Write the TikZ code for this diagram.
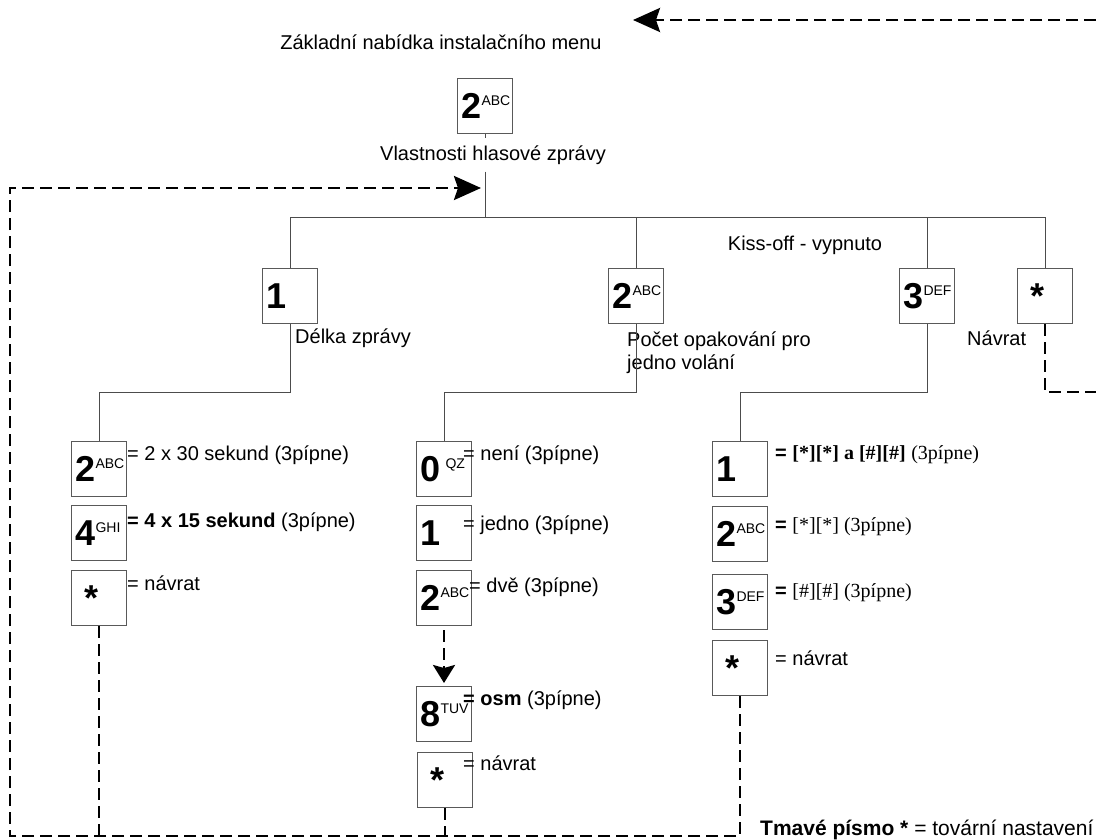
\documentclass[tikz,border=0pt]{standalone}
\usepackage{fontspec}
\setmainfont{Liberation Sans}
\newfontfamily\serifnote{Liberation Serif}
\usetikzlibrary{arrows.meta}

\newcommand{\keylab}[2]{#1\raisebox{13pt}{\fontsize{14}{14}\selectfont\mdseries #2}}
\newcommand{\keystar}{\hspace*{9pt}*}

\begin{document}
\begin{tikzpicture}[x=1pt,y=-1pt,
	font=\fontsize{20}{23}\selectfont,
	keybox/.style={draw=black!65,line width=1pt,anchor=north west,minimum width=55pt,minimum height=55pt,
		text width=47pt,inner xsep=4pt,inner ysep=0pt,align=left,font=\fontsize{36}{36}\selectfont\bfseries},
	wire/.style={draw=black!70,line width=0.9pt},
	ret/.style={draw=black,line width=2.8pt,dash pattern=on 12pt off 6pt},
	note/.style={anchor=west,inner sep=0pt},
	bigtip/.style={-{Stealth[length=27pt,width=24pt,inset=4pt]}}
	]
		\useasboundingbox (0,0) rectangle (1096,840);
		
		% hlavni menu
		\path (441,42) node (menu) {Základní nabídka instalačního menu};
		\coordinate (back) at (633,20);
		\coordinate (rimtop) at (1096,20);
		\draw[ret,bigtip] (rimtop) -- (back);
		
		\path (457,78) node[keybox] (top) {\keylab{2}{ABC}};
		\path (493,155) node[fill=white,inner sep=7pt] (vl) {Vlastnosti hlasové zprávy};
		\coordinate (bus) at (0,217);
		\coordinate (drop) at (0,392);
		\coordinate (floor) at (10,836);
		\coordinate (hub) at (481,188);
		\coordinate (rim) at (1096,392);
		
		\path (262,268) node[keybox] (k1) {1};
		\path (608,268) node[keybox] (k2) {\keylab{2}{ABC}};
		\path (899,268) node[keybox] (k3) {\keylab{3}{DEF}};
		\path (1017,268) node[keybox] (k4) {\keystar};
		
		\draw[wire] (top.south) -- (top.south |- vl.north);
		\draw[wire] (top.south |- vl.south) -- (top.south |- bus);
		\draw[wire] (k1.north) |- (k4.north |- bus) -- (k4.north);
		\draw[wire] (k2.north) -- (k2.north |- bus);
		\draw[wire] (k3.north) -- (k3.north |- bus);
		
		\path (295,338) node[note] (l1) {Délka zprávy};
		\path (627,332) node[note,anchor=north west,align=left] (l2) {Počet opakování pro\\jedno volání};
		\path (805,245) node (l3) {Kiss-off - vypnuto};
		\path (967,338) node[note] (l4) {Návrat};
		
		% delka zpravy
		\path (71,441) node[keybox] (a1) {\keylab{2}{ABC}};
		\path (71,505) node[keybox] (a2) {\keylab{4}{GHI}};
		\path (71,570) node[keybox] (a3) {\keystar};
		\path (127,455) node[note] (ta1) {= 2 x 30 sekund (3pípne)};
		\path (127,522) node[note] (ta2) {\textbf{= 4 x 15 sekund} (3pípne)};
		\path (127,583) node[note] (ta3) {= návrat};
		\draw[wire] (k1.south) -- (k1.south |- drop) -| (a1.north);
		
		% pocet opakovani
		\path (416,441) node[keybox] (b1) {\keylab{0}{\hspace{5pt}QZ}};
		\path (416,505) node[keybox] (b2) {1};
		\path (416,570) node[keybox] (b3) {\keylab{2}{ABC}};
		\path (416,686) node[keybox] (b4) {\keylab{8}{TUV}};
		\path (417,752) node[keybox] (b5) {\keystar};
		\path (463,455) node[note] (tb1) {= není (3pípne)};
		\path (463,525) node[note] (tb2) {= jedno (3pípne)};
		\path (469,587) node[note] (tb3) {= dvě (3pípne)};
		\path (463,700) node[note] (tb4) {\textbf{= osm} (3pípne)};
		\path (463,763) node[note] (tb5) {= návrat};
		\draw[wire] (k2.south) -- (k2.south |- drop) -| (b1.north);
		\draw[ret,shorten <=4pt,shorten >=3pt,-{Stealth[length=18pt,width=22pt,inset=3pt]}] (b3.south) -- (b4.north);
		
		% kiss-off
		\path (712,441) node[keybox] (c1) {1};
		\path (712,506) node[keybox] (c2) {\keylab{2}{ABC}};
		\path (712,574) node[keybox] (c3) {\keylab{3}{DEF}};
		\path (712,640) node[keybox] (c4) {\keystar};
		\path (775,455) node[note] (tc1) {\textbf{=} {\serifnote\bfseries [*][*] a [\#][\#]} {\serifnote (3pípne)}};
		\path (775,527) node[note] (tc2) {\textbf{=} {\serifnote [*][*] (3pípne)}};
		\path (775,593) node[note] (tc3) {\textbf{=} {\serifnote [\#][\#] (3pípne)}};
		\path (775,658) node[note] (tc4) {= návrat};
		\draw[wire] (k3.south) -- (k3.south |- drop) -| (c1.north);
		
		% navraty
		\draw[ret] (a3.south) -- (a3.south |- floor);
		\draw[ret] (b5.south) -- (b5.south |- floor);
		\draw[ret,bigtip] (c4.south) |- (floor) |- (hub);
		\draw[ret] (k4.south) |- (rim);
		
		\path (760,830) node[note,font=\fontsize{21}{24}\selectfont] (legend) {\textbf{Tmavé písmo *} = tovární nastavení};
		
	\end{tikzpicture}
\end{document}
